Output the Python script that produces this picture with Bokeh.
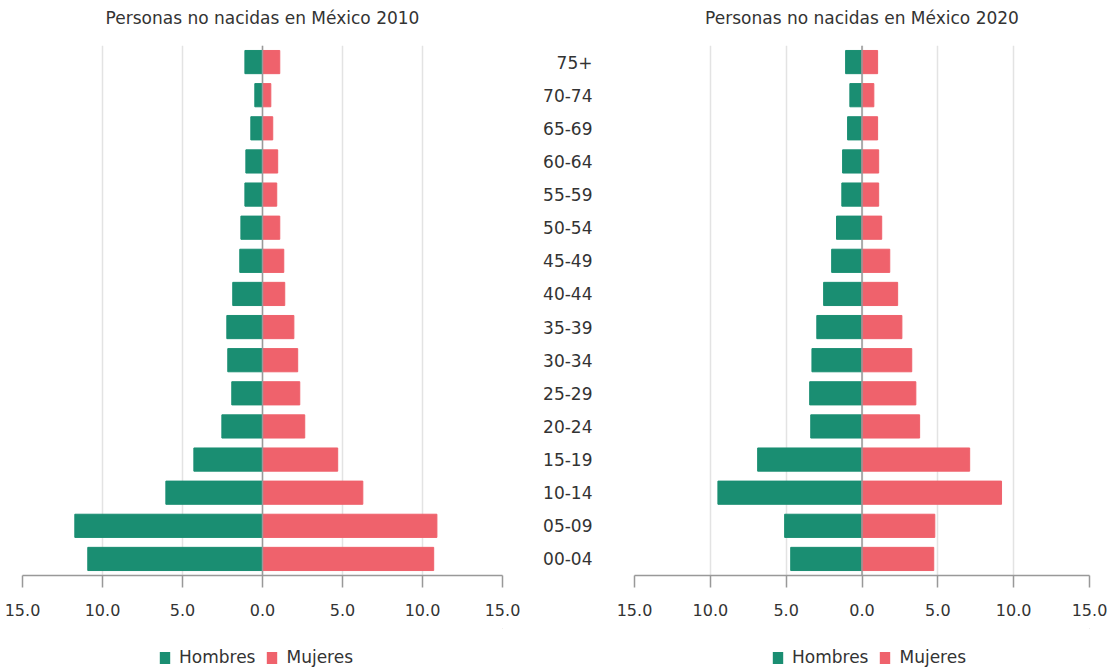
from bokeh.plotting import figure
from bokeh.models import (ColumnDataSource, FactorRange, FixedTicker, CustomJSTickFormatter,
                          Span, Legend, LegendItem)
from bokeh.layouts import row, column
from bokeh.embed import file_html
from bokeh.resources import INLINE

categories = ["00-04", "05-09", "10-14", "15-19", "20-24", "25-29", "30-34", "35-39",
              "40-44", "45-49", "50-54", "55-59", "60-64", "65-69", "70-74", "75+"]
hombres_2010 = [10.92, 11.73, 6.04, 4.29, 2.54, 1.92, 2.17, 2.23, 1.86, 1.42, 1.35, 1.10, 1.04, 0.73, 0.48, 1.10]
mujeres_2010 = [10.70, 10.90, 6.27, 4.70, 2.64, 2.33, 2.20, 1.96, 1.39, 1.33, 1.08, 0.89, 0.95, 0.64, 0.52, 1.08]
hombres_2020 = [4.70, 5.10, 9.50, 6.88, 3.38, 3.45, 3.30, 2.98, 2.53, 2.00, 1.68, 1.33, 1.28, 0.95, 0.80, 1.08]
mujeres_2020 = [4.73, 4.80, 9.20, 7.10, 3.80, 3.55, 3.28, 2.63, 2.35, 1.83, 1.30, 1.10, 1.10, 1.03, 0.78, 1.03]
titles = ["Personas no nacidas en México 2010", "Personas no nacidas en México 2020"]
ticks = [-15, -10, -5, 0, 5, 10, 15]
series_names = ["Hombres", "Mujeres"]

GREEN = "#1a8e72"
RED = "#ef626c"
FONT = "DejaVu Sans"
TXT = "#333333"
H_TITLE = 45
H_MAIN = 583
H_LEG = 42


def blank(width, height, title=None):
    f = figure(width=width, height=height, x_range=(0, 1), y_range=(0, 1), title=title,
               output_backend="svg", toolbar_location=None,
               min_border=0, min_border_left=0, min_border_right=0,
               min_border_top=0, min_border_bottom=0)
    f.axis.visible = False
    f.grid.visible = False
    f.outline_line_color = None
    return f


def make_title(width, text):
    tf = blank(width, H_TITLE, title=text)
    tf.title.align = "center"
    tf.title.text_font = FONT
    tf.title.text_font_size = "17px"
    tf.title.text_font_style = "normal"
    tf.title.text_color = TXT
    tf.title.standoff = 10
    return tf


def make(men, women, width, show_y, left_border, right_border):
    src = ColumnDataSource(dict(cat=categories, men=[-v for v in men], women=women,
                                zero=[0] * len(categories)))
    p = figure(width=width, height=H_MAIN, y_range=FactorRange(*categories, range_padding=0),
               x_range=(-15, 15), title=None, output_backend="svg", toolbar_location=None,
               min_border_left=left_border, min_border_right=right_border, min_border_top=0,
               min_border_bottom=H_MAIN - 530)
    p.hbar(y="cat", left="men", right="zero", height=0.7, color=GREEN, source=src)
    p.hbar(y="cat", left="zero", right="women", height=0.7, color=RED, source=src)
    p.add_layout(Span(location=0, dimension="height", line_color="#999999", line_width=1.5))
    p.outline_line_color = None
    p.ygrid.grid_line_color = None
    p.xgrid.grid_line_color = "#e3e3e3"
    p.xgrid.grid_line_width = 1.5
    p.xaxis.ticker = FixedTicker(ticks=ticks)
    p.xaxis.formatter = CustomJSTickFormatter(code="return Math.abs(tick).toFixed(1);")
    p.xaxis.axis_line_color = "#999999"
    p.xaxis.axis_line_width = 1.5
    p.xaxis.major_tick_line_color = "#999999"
    p.xaxis.major_tick_line_width = 1.5
    p.xaxis.major_tick_out = 12
    p.xaxis.major_tick_in = 0
    p.xaxis.minor_tick_line_color = None
    p.xaxis.major_label_standoff = 16
    p.xaxis.major_label_text_font = FONT
    p.xaxis.major_label_text_font_size = "16px"
    p.xaxis.major_label_text_color = TXT
    p.yaxis.axis_line_color = None
    p.yaxis.major_tick_line_color = None
    p.yaxis.minor_tick_line_color = None
    if show_y:
        p.yaxis.major_label_standoff = 36
        p.yaxis.major_label_text_font = FONT
        p.yaxis.major_label_text_font_size = "17px"
        p.yaxis.major_label_text_color = TXT
    else:
        p.yaxis.visible = False
    return p


def make_legend(width, x_off):
    lf = blank(width, H_LEG)
    r1 = lf.hbar(y=[5], left=[5], right=[5], height=0, fill_color=GREEN, line_color=None)
    r2 = lf.hbar(y=[5], left=[5], right=[5], height=0, fill_color=RED, line_color=None)
    leg = Legend(items=[LegendItem(label=series_names[0], renderers=[r1]),
                        LegendItem(label=series_names[1], renderers=[r2])],
                 orientation="horizontal", location=(x_off, 3),
                 label_text_font=FONT, label_text_font_size="17px", label_text_color=TXT,
                 glyph_width=13, glyph_height=15, label_height=15, spacing=10, label_standoff=8,
                 border_line_color=None, background_fill_alpha=0, margin=0, padding=0)
    lf.add_layout(leg, "center")
    return lf


t1 = make_title(520, titles[0])
t2 = make_title(595, titles[1])
p1 = make(hombres_2010, mujeres_2010, 520, False, 22, 18)
p2 = make(hombres_2020, mujeres_2020, 595, True, 114, 26)
l1 = make_legend(520, 136)
l2 = make_legend(595, 137)
layout = row(column(t1, p1, l1), column(t2, p2, l2))
open("out.html", "w").write(file_html(layout, INLINE))
